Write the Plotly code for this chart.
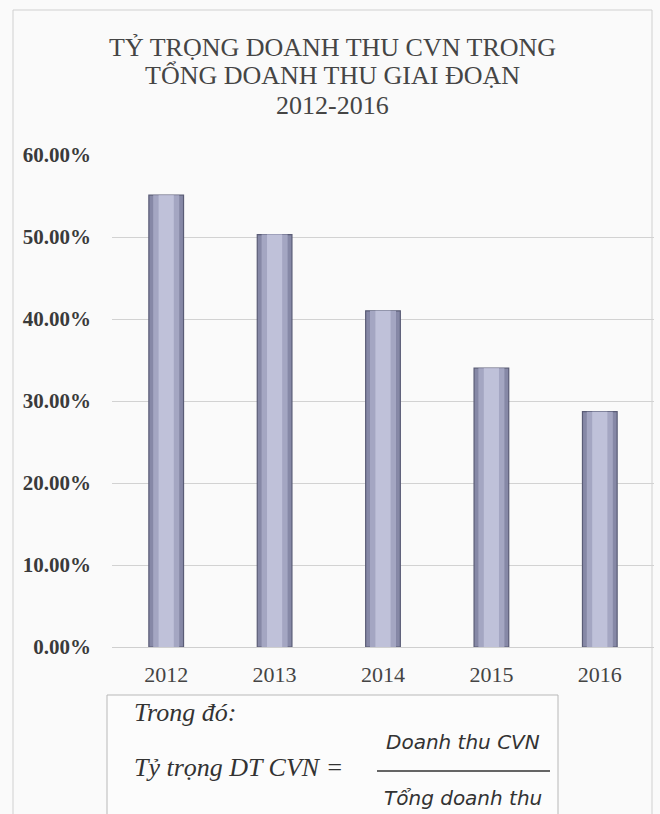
import plotly.graph_objects as go

# ---- data ----
years = ["2012", "2013", "2014", "2015", "2016"]
share = [0.551, 0.503, 0.410, 0.340, 0.287]   # Tỷ trọng doanh thu CVN
ytick_vals = [0.0, 0.1, 0.2, 0.3, 0.4, 0.5, 0.6]

title_lines = ["TỶ TRỌNG DOANH THU CVN TRONG", "TỔNG DOANH THU GIAI ĐOẠN", "2012-2016"]

# ---- layout geometry (pixels) ----
W, H = 660, 814
L, R, T, B = 112, 6, 155, 167
PW, PH = W - L - R, H - T - B


def px(x):
    return (x - L) / PW


def py(y):
    return (H - B - y) / PH


SERIF = "Liberation Serif, Times New Roman, serif"
MATH = "DejaVu Sans, Noto Sans, sans-serif"

fig = go.Figure()
fig.add_trace(go.Bar(
    x=years, y=share, width=0.32,
    marker=dict(color="#8688a6", line=dict(color="#5a5c76", width=1.2)),
    hoverinfo="x+y", showlegend=False,
))
fig.add_trace(go.Bar(
    x=years, y=share, width=0.24,
    marker=dict(color="#a4a6c2", line=dict(width=0)),
    hoverinfo="skip", showlegend=False,
))
fig.add_trace(go.Bar(
    x=years, y=share, width=0.14,
    marker=dict(color="#bfc1d9", line=dict(width=0)),
    hoverinfo="skip", showlegend=False,
))

fig.update_layout(
    width=W, height=H,
    margin=dict(l=L, r=R, t=T, b=B, autoexpand=False),
    paper_bgcolor="#fafafa", plot_bgcolor="#fafafa",
    barmode="overlay",
    showlegend=False,
    font=dict(family=SERIF, color="#3a3a3a"),
)
fig.update_yaxes(
    range=[0, 0.6], tickvals=ytick_vals, tickformat=".2%",
    showgrid=True, gridcolor="#d2d2d2", gridwidth=1,
    zeroline=True, zerolinecolor="#cfcfcf", zerolinewidth=1,
    showline=False, ticks="",
    tickfont=dict(family=SERIF, size=21, color="#3a3a3a", weight="bold"),
    ticklabelstandoff=20,
)
fig.update_xaxes(
    showgrid=False, showline=False, ticks="",
    tickfont=dict(family=SERIF, size=22, color="#444444"),
    ticklabelstandoff=12,
)

# title lines
for txt, yc in zip(title_lines, [47, 76, 105]):
    fig.add_annotation(
        text=txt, x=px(332), y=py(yc), xref="paper", yref="paper",
        xanchor="center", yanchor="middle", showarrow=False,
        font=dict(family=SERIF, size=26, color="#454545"),
    )

# outer chart frame
fig.add_shape(type="rect", xref="paper", yref="paper",
              x0=px(13), x1=px(652), y0=py(830), y1=py(10),
              line=dict(color="#d0d0d0", width=1), layer="below")

# formula box
fig.add_shape(type="rect", xref="paper", yref="paper",
              x0=px(107), x1=px(558), y0=py(830), y1=py(695),
              line=dict(color="#b8b8b8", width=1), fillcolor="#fcfcfc", layer="above")

fig.add_annotation(text="<i>Trong đó:</i>", x=px(132), y=py(712), xref="paper", yref="paper",
                   xanchor="left", yanchor="middle", showarrow=False,
                   font=dict(family=SERIF, size=26, color="#333333"))
fig.add_annotation(text="<i>Tỷ trọng DT CVN =</i>", x=px(132), y=py(767), xref="paper", yref="paper",
                   xanchor="left", yanchor="middle", showarrow=False,
                   font=dict(family=SERIF, size=26, color="#333333"))
fig.add_annotation(text="<i>Doanh thu CVN</i>", x=px(463), y=py(742), xref="paper", yref="paper",
                   xanchor="center", yanchor="middle", showarrow=False,
                   font=dict(family=MATH, size=20, color="#333333"))
fig.add_annotation(text="<i>Tổng doanh thu</i>", x=px(463), y=py(798), xref="paper", yref="paper",
                   xanchor="center", yanchor="middle", showarrow=False,
                   font=dict(family=MATH, size=20, color="#333333"))
fig.add_shape(type="line", xref="paper", yref="paper",
              x0=px(377), x1=px(550), y0=py(771), y1=py(771),
              line=dict(color="#333333", width=1.5))

fig.write_html("out.html")
